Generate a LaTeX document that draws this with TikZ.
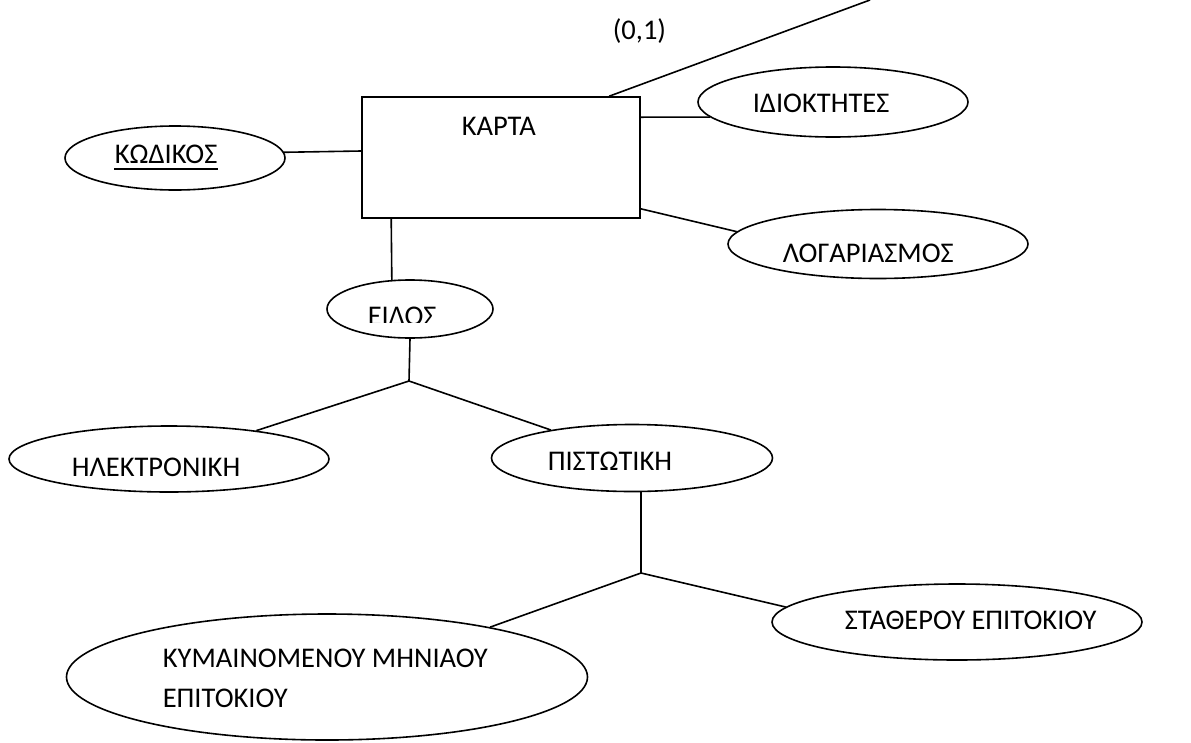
\documentclass[tikz,border=0pt]{standalone}
\usepackage{fontspec}
\setmainfont{Carlito}
\usetikzlibrary{shapes.geometric}
\begin{document}
\begin{tikzpicture}[x=1pt,y=-1pt,line width=1.6pt,
  entity/.style={draw,rectangle,inner sep=0pt},
  attr/.style n args={2}{draw,ellipse,inner sep=0pt,minimum width=#1,minimum height=#2},
  lbl/.style={font=\fontsize{28.5}{38}\selectfont,inner sep=0pt,anchor=base west}]
\useasboundingbox[fill=white] (0,0) rectangle (1191,742);

% entity
\node[entity,minimum width=278pt,minimum height=121pt] (karta) at (501,157.5) {};
\node[lbl] (kartalbl) at (461,135) {ΚΑΡΤΑ};

% attributes
\node[attr={270pt}{70pt}] (idiok) at (833,102) {};
\node[lbl] (idioklbl) at (752,112) {ΙΔΙΟΚΤΗΤΕΣ};

\node[attr={220pt}{64pt}] (kod) at (175,158) {};
\node[lbl] (kodlbl) at (114,163) {ΚΩΔΙΚΟΣ};
\draw[line width=1.4pt] ([yshift=-6pt]kodlbl.base west) -- ([yshift=-6pt]kodlbl.base east);

\node[attr={300pt}{69pt}] (logar) at (878,244) {};
\node[lbl] (logarlbl) at (782,262) {ΛΟΓΑΡΙΑΣΜΟΣ};

\node[attr={166pt}{58pt}] (eidos) at (410,309) {};
\begin{scope}
  \clip (320,285) rectangle (500,322.8);
  \node[lbl] (eidoslbl) at (367,325) {ΕΙΔΟΣ};
\end{scope}

% subtypes
\node[attr={320pt}{66pt}] (ilek) at (169,459) {};
\node[lbl] (ileklbl) at (71,476) {ΗΛΕΚΤΡΟΝΙΚΗ};

\node[attr={281pt}{67pt}] (pist) at (632,458) {};
\node[lbl] (pistlbl) at (547,470) {ΠΙΣΤΩΤΙΚΗ};

\node[attr={370pt}{76pt}] (stath) at (957,622) {};
\node[lbl] (stathlbl) at (844,629) {ΣΤΑΘΕΡΟΥ ΕΠΙΤΟΚΙΟΥ};

\node[attr={521pt}{126pt}] (kym) at (327,677) {};
\node[lbl] (kymlbl1) at (162,667) {ΚΥΜΑΙΝΟΜΕΝΟΥ ΜΗΝΙΑΟΥ};
\node[lbl] (kymlbl2) at (162,707) {ΕΠΙΤΟΚΙΟΥ};

% cardinality
\node[lbl] (card) at (612,39) {(0,1)};

% junctions and free end
\coordinate (far) at (870,0);
\coordinate (j1) at (409,381);
\coordinate (j2) at (641,573);

% connectors
\draw ([xshift=248pt]karta.north west) -- (far);
\draw ([yshift=-21pt]karta.north east) -- (idiok.187.6);
\draw ([yshift=6.5pt]karta.west) -- (kod.3.7);
\draw ([yshift=10pt]karta.south east) -- (logar.175.5);
\draw ([xshift=30pt]karta.south west) -- (eidos.122.5);
\draw (eidos.south) -- (j1);
\draw (j1) -- (ilek);
\draw (j1) -- (pist);
\draw (pist.south -| j2) -- (j2);
\draw (j2) -- (kym.17);
\draw (j2) -- (stath.175);
\end{tikzpicture}
\end{document}
